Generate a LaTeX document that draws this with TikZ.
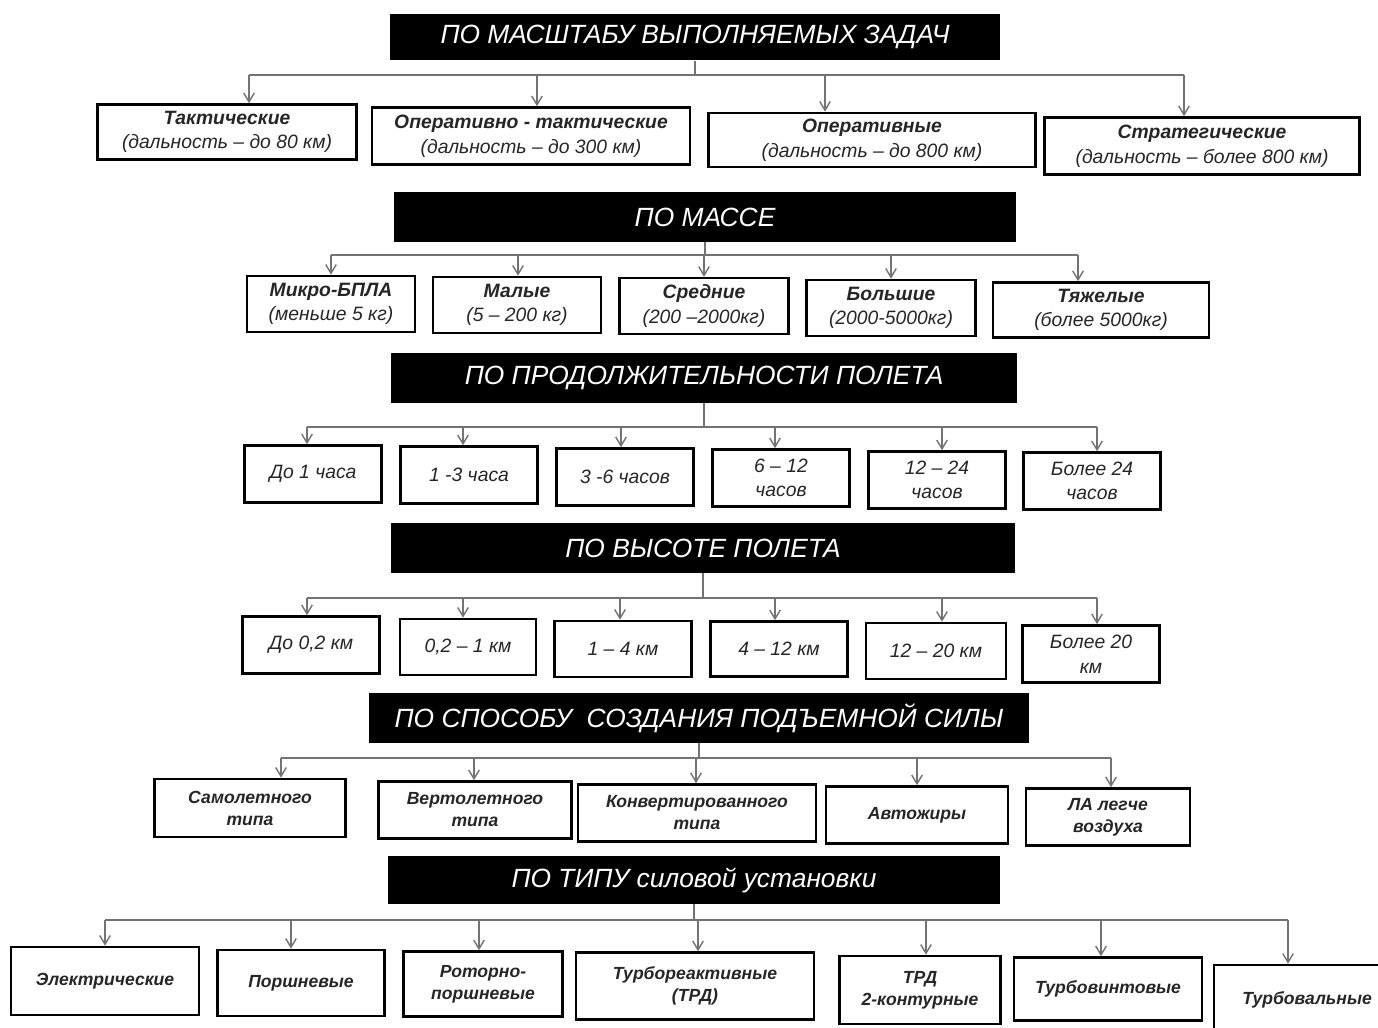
\documentclass[tikz,border=0pt]{standalone}
\usepackage{fontspec}
\setmainfont{Liberation Sans}
\usetikzlibrary{arrows.meta,calc}

\begin{document}
\begin{tikzpicture}[
    x=0.02cm, y=-0.02cm,
    % Common Styles
    header/.style={
        fill=black,
        text=white,
        inner sep=0pt,
        font=\fontsize{15}{18}\selectfont\itshape
    },
    item/.style={
        draw=black,
        fill=white,
        line width=1.5pt,
        inner sep=0pt,
        align=center,
        text=black!85,
        font=\fontsize{11}{14}\selectfont\itshape
    },
    bolditem/.style={
        item,
        font=\fontsize{10}{12.5}\selectfont\bfseries\itshape
    },
    bus/.style={
        black!55,
        line width=0.8pt
    },
    feed/.style={
        bus,
        -{Straight Barb[length=5pt,width=6pt]}
    }
]
    \useasboundingbox (0,0) rectangle (1378,1027);

    % ================= ROW 1: SCALE =================
    \node[header, minimum width=12.22cm, minimum height=0.94cm] (h1) at (695,37) {ПО МАСШТАБУ ВЫПОЛНЯЕМЫХ ЗАДАЧ};

    \node[item, minimum width=5.18cm, minimum height=1.1cm] (t1) at (227,132) {\textbf{Тактические}\\(дальность – до 80 км)};
    \node[item, minimum width=6.36cm, minimum height=1.14cm] (t2) at (531,136) {\textbf{Оперативно - тактические}\\(дальность – до 300 км)};
    \node[item, minimum width=6.54cm, minimum height=1.08cm] (t3) at (872,140) {\textbf{Оперативные}\\(дальность – до 800 км)};
    \node[item, minimum width=6.3cm, minimum height=1.14cm] (t4) at (1202,146) {\textbf{Стратегические}\\(дальность – более 800 км)};

    \coordinate (bus1) at (695,75);
    \draw[bus] (h1.south) -- (h1.south |- bus1);
    \foreach \n/\dx in {t1/22, t2/6, t3/-47, t4/-18} {
        \coordinate (e\n) at ($(\n.north)+(\dx,0)$);
        \draw[feed] (e\n |- bus1) -- (e\n);
    }
    \draw[bus] (et1 |- bus1) -- (et4 |- bus1);

    % ================= ROW 2: MASS =================
    \node[header, minimum width=12.44cm, minimum height=1cm] (h2) at (705,217) {ПО МАССЕ};

    \node[item, minimum width=3.36cm, minimum height=1.12cm] (m1) at (331,304) {\textbf{Микро-БПЛА}\\(меньше 5 кг)};
    \node[item, minimum width=3.36cm, minimum height=1.12cm] (m2) at (517,305) {\textbf{Малые}\\(5 – 200 кг)};
    \node[item, minimum width=3.38cm, minimum height=1.12cm] (m3) at (704,306) {\textbf{Средние}\\(200 –2000кг)};
    \node[item, minimum width=3.38cm, minimum height=1.12cm] (m4) at (891,308) {\textbf{Большие}\\(2000-5000кг)};
    \node[item, minimum width=4.32cm, minimum height=1.1cm] (m5) at (1101,310) {\textbf{Тяжелые}\\(более 5000кг)};

    \coordinate (bus2) at (705,255);
    \draw[bus] (h2.south) -- (h2.south |- bus2);
    \foreach \n/\dx in {m1/0, m2/1, m3/0, m4/0, m5/-23} {
        \coordinate (e\n) at ($(\n.north)+(\dx,0)$);
        \draw[feed] (e\n |- bus2) -- (e\n);
    }
    \draw[bus] (em1 |- bus2) -- (em5 |- bus2);

    % ================= ROW 3: DURATION =================
    \node[header, minimum width=12.52cm, minimum height=1cm] (h3) at (704,378) {ПО ПРОДОЛЖИТЕЛЬНОСТИ ПОЛЕТА};

    \node[item, minimum width=2.74cm, minimum height=1.14cm] (d1) at (313,474) {До 1 часа};
    \node[item, minimum width=2.74cm, minimum height=1.14cm] (d2) at (469,475) {1 -3 часа};
    \node[item, minimum width=2.74cm, minimum height=1.14cm] (d3) at (625,477) {3 -6 часов};
    \node[item, minimum width=2.74cm, minimum height=1.14cm] (d4) at (781,478) {6 – 12\\часов};
    \node[item, minimum width=2.74cm, minimum height=1.14cm] (d5) at (937,480) {12 – 24\\часов};
    \node[item, minimum width=2.74cm, minimum height=1.14cm] (d6) at (1092,481) {Более 24\\часов};

    \coordinate (bus3) at (704,427);
    \draw[bus] (h3.south) -- (h3.south |- bus3);
    \foreach \n/\dx in {d1/-6, d2/-6, d3/-4, d4/-6, d5/5, d6/5} {
        \coordinate (e\n) at ($(\n.north)+(\dx,0)$);
        \draw[feed] (e\n |- bus3) -- (e\n);
    }
    \draw[bus] (ed1 |- bus3) -- (ed6 |- bus3);

    % ================= ROW 4: ALTITUDE =================
    \node[header, minimum width=12.48cm, minimum height=1cm] (h4) at (703,548) {ПО ВЫСОТЕ ПОЛЕТА};

    \node[item, minimum width=2.74cm, minimum height=1.14cm] (a1) at (311,645) {До 0,2 км};
    \node[item, minimum width=2.72cm, minimum height=1.12cm] (a2) at (468,647) {0,2 – 1 км};
    \node[item, minimum width=2.74cm, minimum height=1.12cm] (a3) at (623,649) {1 – 4 км};
    \node[item, minimum width=2.74cm, minimum height=1.1cm] (a4) at (779,649) {4 – 12 км};
    \node[item, minimum width=2.8cm, minimum height=1.12cm] (a5) at (936,651) {12 – 20 км};
    \node[item, minimum width=2.74cm, minimum height=1.14cm] (a6) at (1091,654) {Более 20\\км};

    \coordinate (bus4) at (703,598);
    \draw[bus] (h4.south) -- (h4.south |- bus4);
    \foreach \n/\dx in {a1/-4, a2/-5, a3/-3, a4/-4, a5/6, a6/6} {
        \coordinate (e\n) at ($(\n.north)+(\dx,0)$);
        \draw[feed] (e\n |- bus4) -- (e\n);
    }
    \draw[bus] (ea1 |- bus4) -- (ea6 |- bus4);

    % ================= ROW 5: LIFT =================
    \node[header, minimum width=13.2cm, minimum height=1cm] (h5) at (699,718) {ПО СПОСОБУ~ СОЗДАНИЯ ПОДЪЕМНОЙ СИЛЫ};

    \node[bolditem, minimum width=3.82cm, minimum height=1.16cm] (s1) at (250,808) {Самолетного\\типа};
    \node[bolditem, minimum width=3.86cm, minimum height=1.14cm] (s2) at (475,810) {Вертолетного\\типа};
    \node[bolditem, minimum width=4.76cm, minimum height=1.14cm] (s3) at (697,813) {Конвертированного\\типа};
    \node[bolditem, minimum width=3.64cm, minimum height=1.14cm] (s4) at (917,815) {Автожиры};
    \node[bolditem, minimum width=3.28cm, minimum height=1.14cm] (s5) at (1108,817) {ЛА легче\\воздуха};

    \coordinate (bus5) at (699,758);
    \draw[bus] (h5.south) -- (h5.south |- bus5);
    \foreach \n/\dx in {s1/31, s2/-1, s3/-1, s4/0, s5/3} {
        \coordinate (e\n) at ($(\n.north)+(\dx,0)$);
        \draw[feed] (e\n |- bus5) -- (e\n);
    }
    \draw[bus] (es1 |- bus5) -- (es5 |- bus5);

    % ================= ROW 6: POWER PLANT =================
    \node[header, minimum width=12.26cm, minimum height=0.96cm] (h6) at (694,880) {ПО ТИПУ силовой установки};

    \node[bolditem, minimum width=3.76cm, minimum height=1.36cm] (p1) at (105,981) {Электрические};
    \node[bolditem, minimum width=3.34cm, minimum height=1.32cm] (p2) at (301,983) {Поршневые};
    \node[bolditem, minimum width=3.18cm, minimum height=1.3cm] (p3) at (483,984) {Роторно-\\поршневые};
    \node[bolditem, minimum width=4.76cm, minimum height=1.34cm] (p4) at (695,986) {Турбореактивные\\(ТРД)};
    \node[bolditem, minimum width=3.22cm, minimum height=1.36cm] (p5) at (920,990) {ТРД\\2-контурные};
    \node[bolditem, minimum width=3.76cm, minimum height=1.26cm] (p6) at (1108,989) {Турбовинтовые};
    \node[bolditem, minimum width=3.72cm, minimum height=1.4cm] (p7) at (1307,1000) {Турбовальные};

    \coordinate (bus6) at (694,920);
    \draw[bus] (h6.south) -- (h6.south |- bus6);
    \foreach \n/\dx in {p1/0, p2/-10, p3/-4, p4/3, p5/6, p6/-7, p7/-19} {
        \coordinate (e\n) at ($(\n.north)+(\dx,0)$);
        \draw[feed] (e\n |- bus6) -- (e\n);
    }
    \draw[bus] (ep1 |- bus6) -- (ep7 |- bus6);

\end{tikzpicture}
\end{document}
